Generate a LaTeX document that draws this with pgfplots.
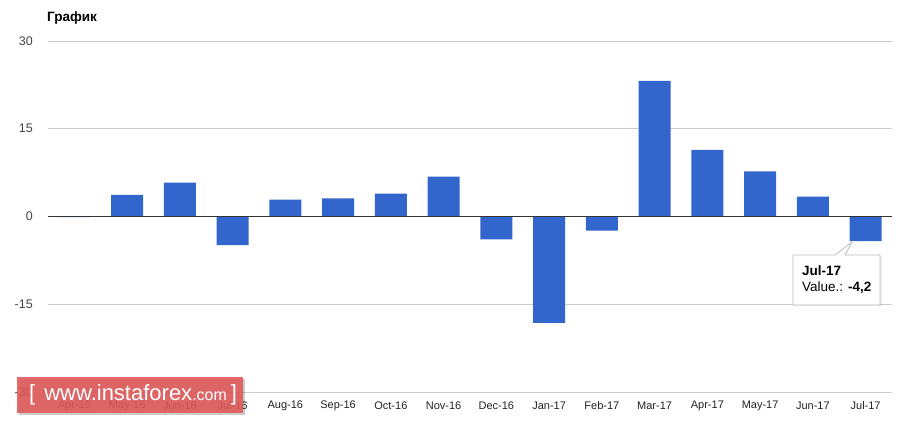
\documentclass[border=0pt]{standalone}
\usepackage{fontspec}
\setmainfont{Liberation Sans}
\usepackage{pgfplots}
\pgfplotsset{compat=1.18}
\definecolor{barblue}{HTML}{3366CC}
\definecolor{gridgray}{HTML}{CCCCCC}
\definecolor{zerocol}{HTML}{333333}
\definecolor{ylab}{HTML}{444444}
\definecolor{xlab}{HTML}{222222}
\definecolor{wmred}{HTML}{DF5A5A}
\begin{document}
\begin{tikzpicture}[x=1pt,y=1pt]
\useasboundingbox (-48,-35) rectangle (853,392);
\begin{axis}[
  at={(0,0)}, anchor=south west,
  scale only axis, width=844pt, height=351pt,
  ybar, bar width=32pt,
  xmin=-0.5, xmax=15.5, ymin=-30, ymax=30,
  ytick={-30,-15,0,15,30},
  xtick={0,...,15},
  xticklabels={Apr-16,May-16,Jun-16,Jul-16,Aug-16,Sep-16,Oct-16,Nov-16,Dec-16,Jan-17,Feb-17,Mar-17,Apr-17,May-17,Jun-17,Jul-17},
  axis line style={draw=none},
  major tick length=0pt,
  ymajorgrids, grid style={color=gridgray, line width=0.8pt},
  /pgf/number format/assume math mode=true,
  yticklabel style={font=\fontsize{12.5}{14}\selectfont, text=ylab, inner sep=0pt, anchor=east, xshift=-15pt},
  xticklabel style={font=\fontsize{11}{13}\selectfont, text=xlab, inner sep=0pt, anchor=center, yshift=-14pt},
  clip=false,
]
\addplot[fill=barblue, draw=none] coordinates {
(0,-0.1) (1,3.7) (2,5.8) (3,-4.9) (4,2.9) (5,3.1) (6,3.9) (7,6.8)
(8,-3.9) (9,-18.2) (10,-2.4) (11,23.2) (12,11.4) (13,7.7) (14,3.4) (15,-4.2)};
\draw[zerocol, line width=0.9pt] (axis cs:-0.5,0) -- (axis cs:15.5,0);
\end{axis}
% title
\node[anchor=west, inner sep=0pt, font=\bfseries\fontsize{13.5}{15}\selectfont] at (-1,374) {График};
% tooltip
\fill[black, opacity=0.08] (746,86) rectangle (834,136);
\draw[gridgray!80!gray, fill=white, line width=0.8pt]
  (745,137) -- (787,137) -- (804,150) -- (797,137) -- (832,137) -- (832,87) -- (745,87) -- cycle;
\node[anchor=west, inner sep=0pt, font=\bfseries\fontsize{13.5}{15}\selectfont] at (754,121) {Jul-17};
\node[anchor=west, inner sep=0pt, font=\fontsize{13.5}{15}\selectfont] at (754,104) {Value.: \textbf{-4,2}};
% watermark
\fill[black, opacity=0.2] (-29,-23) rectangle (197,13);
\fill[wmred, opacity=0.9] (-31,-21) rectangle (195,15);
\node[anchor=west, inner sep=0pt, text=white, font=\fontsize{22}{24}\selectfont] at (-19,-3) {[\hspace{9pt}www.instaforex{\fontsize{16}{17}\selectfont.com}\hspace{4pt}]};
\end{tikzpicture}
\end{document}
